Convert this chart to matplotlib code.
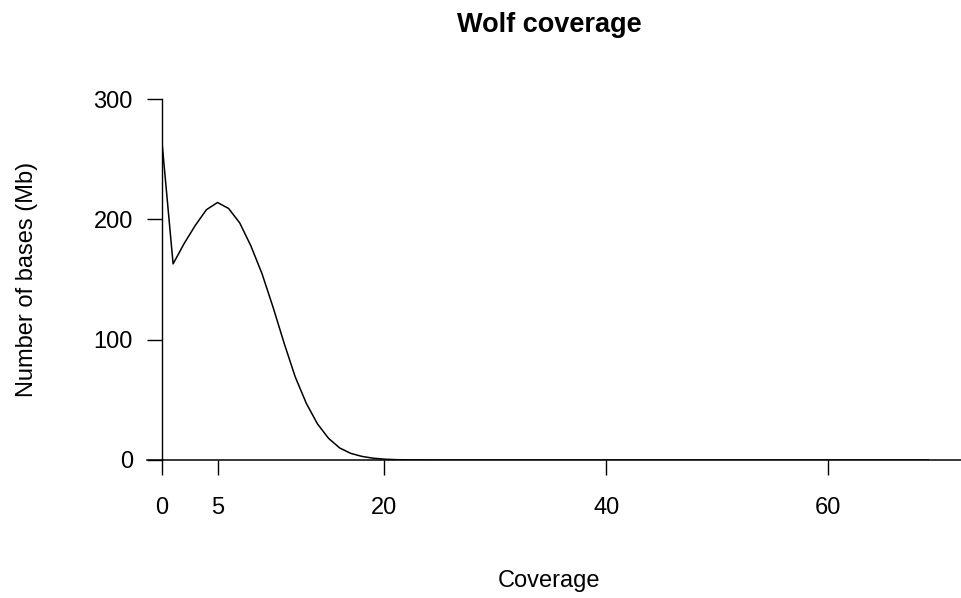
import matplotlib
matplotlib.use("Agg")
import matplotlib.pyplot as plt

coverage = list(range(0, 70))
bases_mb = [264, 163, 180, 195, 208, 214, 209, 197, 178, 155,
            127, 97, 69, 47, 30, 18, 10, 5.5, 3, 1.5,
            0.7, 0.3, 0.15, 0.07, 0.03] + [0] * 45
x_ticks = [0, 5, 20, 40, 60]
y_ticks = [0, 100, 200, 300]
title = "Wolf coverage"
x_label = "Coverage"
y_label = "Number of bases (Mb)"

plt.rcParams['font.family'] = ['Liberation Sans', 'DejaVu Sans']

W, H = 962, 598
fig = plt.figure(figsize=(W / 100, H / 100), dpi=100)
left, right, bottom, top = 162, 936, 460, 99
ax = fig.add_axes([left / W, 1 - bottom / H, (right - left) / W, (bottom - top) / H])

ax.plot(coverage, bases_mb, color="black", lw=1.1)
ax.set_xlim(0, 69.7)
ax.set_ylim(0, 300)

for s in ["top", "right", "bottom"]:
    ax.spines[s].set_visible(False)
ax.spines["left"].set_linewidth(1.0)
ax.spines["left"].set_bounds(0, 300)

# horizontal baseline spanning beyond the plot region
ax.axhline(0, xmin=-15 / (right - left), xmax=(W - left) / (right - left),
           color="black", lw=1.1, clip_on=False)

ax.set_xticks(x_ticks)
ax.set_yticks(y_ticks)
ax.tick_params(axis="both", direction="out", length=11, width=1.0, labelsize=17)
ax.tick_params(axis="x", pad=16)
ax.tick_params(axis="y", pad=10)

fig.text(549 / W, 1 - 25 / H, title, ha="center", va="center", fontsize=19.5, fontweight="bold")
fig.text(549 / W, 1 - 581 / H, x_label, ha="center", va="center", fontsize=17)
fig.text(27 / W, 1 - 279 / H, y_label, ha="center", va="center", fontsize=17, rotation=90)

fig.savefig("out.png", dpi=100)
